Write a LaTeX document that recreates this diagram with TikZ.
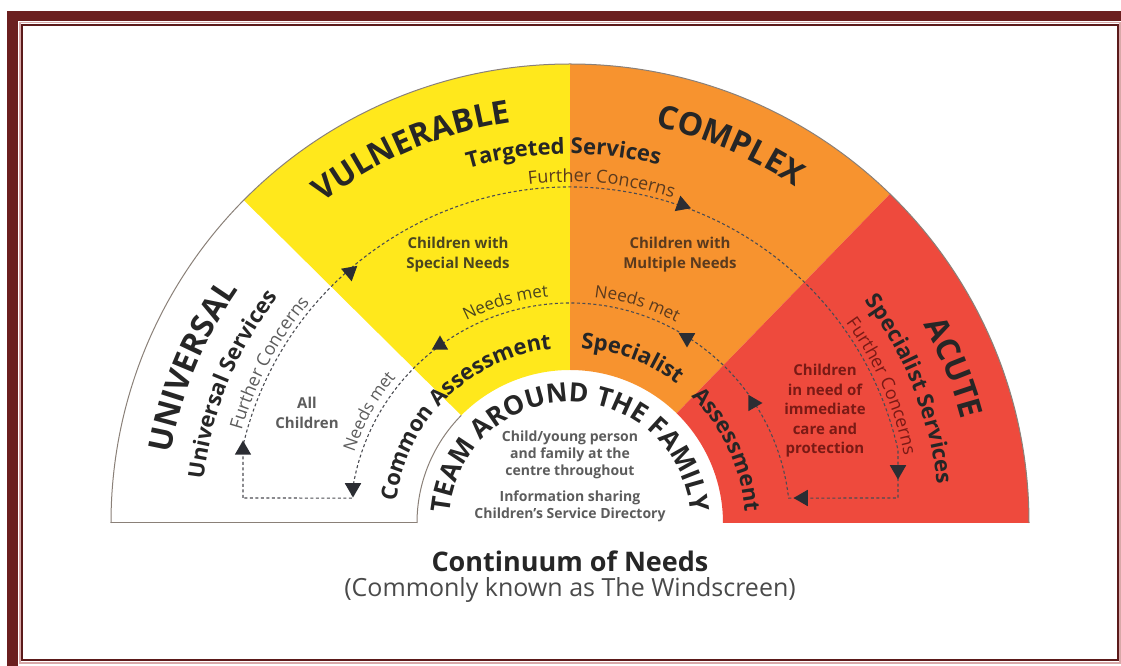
\documentclass[tikz,border=0pt]{standalone}
\usepackage{fontspec}
\setmainfont{Open Sans}
\usetikzlibrary{decorations.text,shapes.geometric}

\definecolor{vulnyellow}{HTML}{FFE81C}
\definecolor{complexorange}{HTML}{F7932F}
\definecolor{acutered}{HTML}{EE4A3D}
\definecolor{framemaroon}{HTML}{6B1F1F}
\definecolor{framepink}{HTML}{D9A9A9}
\definecolor{labeldark}{HTML}{262626}
\definecolor{softgrey}{HTML}{5C5C5C}
\definecolor{olivetext}{HTML}{4A4520}
\definecolor{browntext}{HTML}{5A3A1E}
\definecolor{redtext}{HTML}{7A1A15}
\definecolor{rimgrey}{HTML}{8A8078}
\definecolor{markdark}{HTML}{2B2D33}

\newcommand\bandfont{\bfseries\fontsize{32}{32}\selectfont}
\newcommand\servicefont{\bfseries\fontsize{22}{22}\selectfont}
\newcommand\flowfont{\fontsize{18}{18}\selectfont}
\newcommand\metfont{\fontsize{17}{17}\selectfont}
\newcommand\stepfont{\bfseries\fontsize{22}{22}\selectfont}
\newcommand\hubfont{\bfseries\fontsize{26.5}{26.5}\selectfont}

\tikzset{
  curvetext/.style 2 args={decorate, decoration={text along path, text align=center, text color=#1, text={#2}}},
  rimline/.style={draw=rimgrey, line width=1pt},
  flowline/.style={draw=markdark!85, line width=1.1pt, dash pattern=on 3pt off 2.5pt},
  marker/.style={fill=markdark, draw=none, regular polygon, regular polygon sides=3, minimum size=19pt, inner sep=0pt},
  tagtext/.style={align=center, inner sep=0pt, font=\bfseries\fontsize{15}{20}\selectfont}
}

\begin{document}
\begin{tikzpicture}[x=1pt,y=1pt]
  \useasboundingbox (-570,-143) rectangle (551,523);

  % frame
  \fill[framemaroon] (-563,512) rectangle (551,502);
  \fill[framemaroon] (-563,512) rectangle (-552,-143);
  \draw[framepink, line width=1.5pt] (-550,500.5) rectangle (550,-140);
  \draw[framemaroon!85!black, line width=2pt] (-547.5,498) rectangle (547.5,-137);

  % windscreen sectors
  \fill[vulnyellow] (135.3:153) -- (135.3:459) arc[start angle=135.3, end angle=90, radius=459] -- (90:153) arc[start angle=90, end angle=135.3, radius=153] -- cycle;
  \fill[complexorange] (90:153) -- (90:459) arc[start angle=90, end angle=45.8, radius=459] -- (45.8:153) arc[start angle=45.8, end angle=90, radius=153] -- cycle;
  \fill[acutered] (45.8:153) -- (45.8:459) arc[start angle=45.8, end angle=0, radius=459] -- (0:153) arc[start angle=0, end angle=45.8, radius=153] -- cycle;
  \draw[rimline] (180:459) arc[start angle=180, end angle=0, radius=459];
  \draw[rimline] (-459,0) -- (-153,0);
  \draw[rimline] (180:153) arc[start angle=180, end angle=135.3, radius=153];

  % flow loop
  \draw[flowline] (-327,25) -- (166.7:336) arc[start angle=166.7, end angle=12.5, radius=336] -- (328,25) -- (6.5:220) arc[start angle=6.5, end angle=173.5, radius=220] -- cycle;

  \node[marker] (upW) at (-327,73) {};
  \node[marker, shape border rotate=180] (downW) at (-217,35) {};
  \node[marker, shape border rotate=190] (outerY) at (-220,251) {};
  \node[marker] (innerY) at (-130,178) {};
  \node[marker, shape border rotate=-110] (outerO) at (112,318) {};
  \node[marker, shape border rotate=180] (innerO) at (117,185) {};
  \node[marker, shape border rotate=-90] (innerR) at (183,120) {};
  \node[marker, shape border rotate=180] (downR) at (328,53) {};
  \node[marker, shape border rotate=90] (leftR) at (233,25) {};

  % band titles
  \path[curvetext={labeldark}{|\bandfont|UNIVERSAL}] (197.5:405) arc[start angle=197.5, end angle=117.5, radius=405];
  \path[curvetext={labeldark}{|\bandfont|VULNERABLE}] (153:405) arc[start angle=153, end angle=73, radius=405];
  \path[curvetext={labeldark}{|\bandfont|COMPLEX}] (107:405) arc[start angle=107, end angle=27, radius=405];
  \path[curvetext={labeldark}{|\bandfont|ACUTE}] (62:405) arc[start angle=62, end angle=-18, radius=405];

  % services
  \path[curvetext={labeldark}{|\servicefont|Universal Services}] (197.7:369) arc[start angle=197.7, end angle=117.7, radius=369];
  \path[curvetext={labeldark}{|\servicefont|Targeted Services}] (131:369) arc[start angle=131, end angle=51, radius=369];
  \path[curvetext={labeldark}{|\servicefont|Specialist Services}] (61.5:369) arc[start angle=61.5, end angle=-18.5, radius=369];

  % further concerns
  \path[curvetext={softgrey}{|\flowfont|Further Concerns}] (192:341) arc[start angle=192, end angle=112, radius=341];
  \path[curvetext={browntext}{|\flowfont|Further Concerns}] (124.7:341) arc[start angle=124.7, end angle=44.7, radius=341];
  \path[curvetext={redtext}{|\flowfont|Further Concerns}] (63.7:341) arc[start angle=63.7, end angle=-16.3, radius=341];

  % needs met
  \path[curvetext={softgrey}{|\metfont|Needs met}] (181:227) arc[start angle=181, end angle=121, radius=227];
  \path[curvetext={olivetext}{|\metfont|Needs met}] (136.3:227) arc[start angle=136.3, end angle=76.3, radius=227];
  \path[curvetext={browntext}{|\metfont|Needs met}] (103:227) arc[start angle=103, end angle=43, radius=227];

  % assessments
  \path[curvetext={labeldark}{|\stepfont|Common Assessment}] (189.5:175) arc[start angle=189.5, end angle=79.5, radius=175];
  \path[curvetext={labeldark}{|\stepfont|Specialist}] (99.4:175) arc[start angle=99.4, end angle=39.4, radius=175];
  \path[curvetext={labeldark}{|\stepfont|Assessment}] (59.9:175) arc[start angle=59.9, end angle=-10.1, radius=175];

  % team around the family
  \path[curvetext={labeldark}{|\hubfont|TEAM AROUND THE FAMILY}] (185:121) arc[start angle=185, end angle=-5, radius=121];

  % sector notes
  \node[tagtext, text=softgrey] (allkids) at (-263,110) {All\\Children};
  \node[tagtext, text=olivetext] (specialkids) at (-112,268) {Children with\\Special Needs};
  \node[tagtext, text=browntext] (multikids) at (110,268) {Children with\\Multiple Needs};
  \node[tagtext, text=redtext, font=\bfseries\fontsize{15}{19.5}\selectfont] (acutekids) at (255,112) {Children\\in need of\\immediate\\care and\\protection};

  \node[tagtext, text=softgrey, font=\bfseries\fontsize{14}{17}\selectfont] (childcentre) at (0,68) {Child/young person\\and family at the\\centre throughout};
  \node[tagtext, text=softgrey, font=\bfseries\fontsize{14}{17}\selectfont] (sharing) at (0,16.5) {Information sharing\\Children's Service Directory};

  % caption
  \node[anchor=base, text=labeldark, font=\bfseries\fontsize{27}{27}\selectfont] (title) at (0,-49) {Continuum of Needs};
  \node[anchor=base, text=softgrey!80!black, font=\fontsize{25}{25}\selectfont] (subtitle) at (0,-74) {(Commonly known as The Windscreen)};
\end{tikzpicture}
\end{document}
